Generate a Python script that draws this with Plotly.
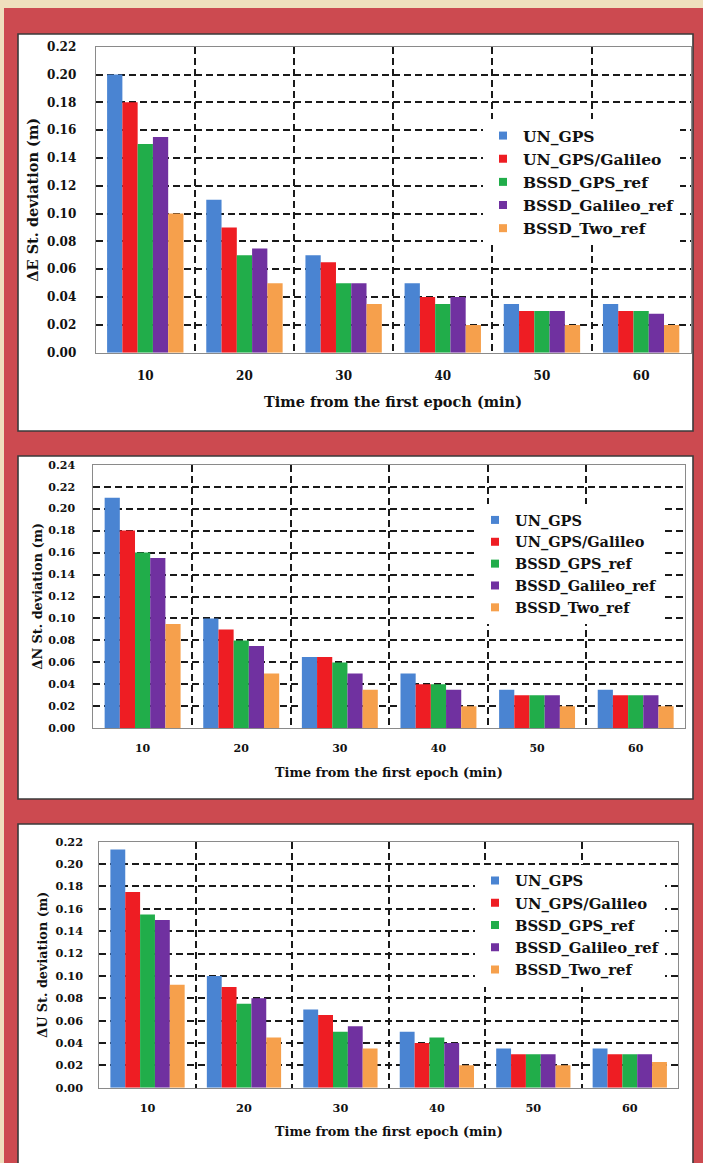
import plotly.graph_objects as go

W, H = 703, 1163

# Categories and series
times = ["10", "20", "30", "40", "50", "60"]
series_names = ["UN_GPS", "UN_GPS/Galileo", "BSSD_GPS_ref", "BSSD_Galileo_ref", "BSSD_Two_ref"]
series_colors = ["#4a84d2", "#ee1d23", "#21ad4a", "#7031a0", "#f6a04c"]

# ΔE standard deviation (m)
east_un_gps = [0.200, 0.110, 0.070, 0.050, 0.035, 0.035]
east_un_gps_gal = [0.180, 0.090, 0.065, 0.040, 0.030, 0.030]
east_bssd_gps = [0.150, 0.070, 0.050, 0.035, 0.030, 0.030]
east_bssd_gal = [0.155, 0.075, 0.050, 0.040, 0.030, 0.028]
east_bssd_two = [0.100, 0.050, 0.035, 0.020, 0.020, 0.020]

# ΔN standard deviation (m)
north_un_gps = [0.210, 0.100, 0.065, 0.050, 0.035, 0.035]
north_un_gps_gal = [0.180, 0.090, 0.065, 0.040, 0.030, 0.030]
north_bssd_gps = [0.160, 0.080, 0.060, 0.040, 0.030, 0.030]
north_bssd_gal = [0.155, 0.075, 0.050, 0.035, 0.030, 0.030]
north_bssd_two = [0.095, 0.050, 0.035, 0.020, 0.020, 0.020]

# ΔU standard deviation (m)
up_un_gps = [0.213, 0.100, 0.070, 0.050, 0.035, 0.035]
up_un_gps_gal = [0.175, 0.090, 0.065, 0.040, 0.030, 0.030]
up_bssd_gps = [0.155, 0.075, 0.050, 0.045, 0.030, 0.030]
up_bssd_gal = [0.150, 0.080, 0.055, 0.040, 0.030, 0.030]
up_bssd_two = [0.092, 0.045, 0.035, 0.020, 0.020, 0.023]

panels = [
    dict(title="ΔE St. deviation (m)", ymax=0.22,
         data=[east_un_gps, east_un_gps_gal, east_bssd_gps, east_bssd_gal, east_bssd_two],
         plot=(95.7, 690.7, 46.7, 352.7), box=(18, 693, 34, 431), open_bottom=False,
         ytitle_x=33, xtitle_y=402, tick_size=12, ystand=16, xstand=12, xtitle_size=14.5,
         legend_xy=(523, 133), legend_size=15.5),
    dict(title="ΔN St. deviation (m)", ymax=0.24,
         data=[north_un_gps, north_un_gps_gal, north_bssd_gps, north_bssd_gal, north_bssd_two],
         plot=(93.3, 685.0, 464.7, 728.3), box=(18, 693, 456, 799), open_bottom=False,
         ytitle_x=37, xtitle_y=772, tick_size=11, ystand=15, xstand=9, xtitle_size=12.8,
         legend_xy=(515, 518), legend_size=14.5),
    dict(title="ΔU St. deviation (m)", ymax=0.22,
         data=[up_un_gps, up_un_gps_gal, up_bssd_gps, up_bssd_gal, up_bssd_two],
         plot=(99.3, 678.0, 841.7, 1087.7), box=(18, 693, 824, H), open_bottom=True,
         ytitle_x=43, xtitle_y=1131, tick_size=11.3, ystand=13, xstand=10, xtitle_size=12.8,
         legend_xy=(515, 878.5), legend_size=14.8),
]

FONT = "DejaVu Serif"
INK = "#111111"


def px_x(v):
    return v / W


def px_y(v):
    return 1 - v / H


fig = go.Figure()
shapes = []
annotations = []
layout_axes = {}

# Beige page edge behind the red frame
shapes.append(dict(type="rect", xref="paper", yref="paper", x0=0, x1=1, y0=0, y1=1,
                   fillcolor="#efdfbd", line=dict(width=0), layer="below"))
shapes.append(dict(type="rect", xref="paper", yref="paper", x0=px_x(4), x1=1, y0=0,
                   y1=px_y(8), fillcolor="#cc4a50", line=dict(width=0), layer="below"))

for i, p in enumerate(panels):
    n = "" if i == 0 else str(i + 1)
    xa, ya = "x" + n, "y" + n
    x0, x1, y0, y1 = p["plot"]
    bx0, bx1, by0, by1 = p["box"]

    # White card holding the chart, with a dark outline
    shapes.append(dict(type="rect", xref="paper", yref="paper",
                       x0=px_x(bx0), x1=px_x(bx1), y0=px_y(by1), y1=px_y(by0),
                       fillcolor="white", line=dict(width=0), layer="below"))
    if p["open_bottom"]:
        outline = (f"M{px_x(bx0)},{px_y(by1)} L{px_x(bx0)},{px_y(by0)} "
                   f"L{px_x(bx1)},{px_y(by0)} L{px_x(bx1)},{px_y(by1)}")
    else:
        outline = (f"M{px_x(bx0)},{px_y(by1)} L{px_x(bx0)},{px_y(by0)} "
                   f"L{px_x(bx1)},{px_y(by0)} L{px_x(bx1)},{px_y(by1)} Z")
    shapes.append(dict(type="path", xref="paper", yref="paper", path=outline,
                       line=dict(color="#3a3a3a", width=1.6), layer="below"))

    for name, color, vals in zip(series_names, series_colors, p["data"]):
        fig.add_trace(go.Bar(x=times, y=vals, name=name, marker=dict(color=color, line=dict(width=0)),
                             xaxis=xa, yaxis=ya, showlegend=False))
    # Legend entries with small square keys
    for name, color in zip(series_names, series_colors):
        fig.add_trace(go.Scatter(x=[None], y=[None], mode="markers", name=name,
                                 marker=dict(symbol="square", size=8, color=color),
                                 xaxis=xa, yaxis=ya, legend="legend" + n))

    grid = dict(showgrid=True, gridcolor="#1a1a1a", gridwidth=1.6, griddash="7px,4px")
    tick_font = dict(family=FONT, size=p["tick_size"], color=INK, weight="bold")
    layout_axes["xaxis" + n] = dict(
        domain=[px_x(x0), px_x(x1)], anchor=ya, type="category", tickson="boundaries",
        ticks="", ticklabelstandoff=p["xstand"], tickfont=tick_font, showline=True,
        linecolor="#8a8a8a", linewidth=1, mirror=True, range=[-0.5, 5.5], automargin=False, **grid)
    layout_axes["yaxis" + n] = dict(
        domain=[px_y(y1), px_y(y0)], anchor=xa, range=[0, p["ymax"]], dtick=0.02,
        tickformat=".2f", ticks="", ticklabelstandoff=p["ystand"], tickfont=tick_font,
        showline=True, linecolor="#8a8a8a", linewidth=1, mirror=True, zeroline=False,
        automargin=False, **grid)

    lx, ly = p["legend_xy"]
    layout_axes["legend" + n] = dict(
        x=px_x(lx - 40), y=px_y(ly - 14), xanchor="left", yanchor="top", xref="paper", yref="paper",
        bgcolor="white", borderwidth=0,
        font=dict(family=FONT, size=p["legend_size"], color=INK, weight="bold"),
        tracegroupgap=0)

    title_font = dict(family=FONT, size=p["xtitle_size"], color=INK, weight="bold")
    annotations.append(dict(text=p["title"], xref="paper", yref="paper", x=px_x(p["ytitle_x"]),
                            y=px_y((y0 + y1) / 2), textangle=-90, showarrow=False,
                            xanchor="center", yanchor="middle", font=title_font))
    annotations.append(dict(text="Time from the first epoch (min)", xref="paper", yref="paper",
                            x=px_x((x0 + x1) / 2), y=px_y(p["xtitle_y"]), showarrow=False,
                            xanchor="center", yanchor="middle", font=title_font))

fig.update_layout(
    width=W, height=H, margin=dict(l=0, r=0, t=0, b=0, pad=0, autoexpand=False),
    paper_bgcolor="#cc4a50", plot_bgcolor="white",
    barmode="group", bargap=0.23, bargroupgap=0,
    shapes=shapes, annotations=annotations,
    **layout_axes,
)

fig.write_html("out.html")
